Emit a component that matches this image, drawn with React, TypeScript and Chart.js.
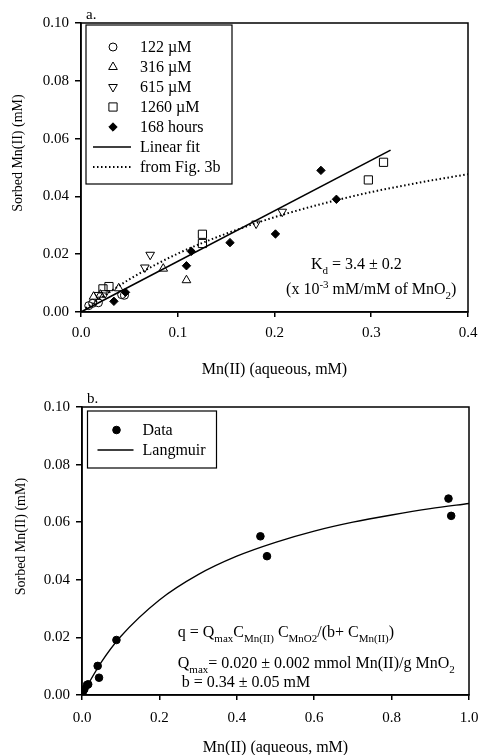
import React, { useEffect, useRef } from 'react';
import { Chart, registerables } from 'chart.js';
import { drawPoint } from 'chart.js/helpers';

Chart.register(...registerables);

const SERIF = '"Liberation Serif", "Times New Roman", Times, serif';

// ---------------- Panel a ----------------
const aXTicks = [0, 0.1, 0.2, 0.3, 0.4];
const aYTicks = [0, 0.02, 0.04, 0.06, 0.08, 0.1];

const a122X = [0.008, 0.012, 0.018, 0.042, 0.045];
const a122Y = [0.0022, 0.003, 0.0032, 0.006, 0.0058];

const a316X = [0.013, 0.02, 0.039, 0.085, 0.109];
const a316Y = [0.0053, 0.006, 0.0082, 0.015, 0.011];

const a615X = [0.018, 0.025, 0.066, 0.0715, 0.181, 0.208];
const a615Y = [0.0059, 0.0065, 0.0154, 0.0198, 0.0306, 0.0347];

const a1260X = [0.0227, 0.0289, 0.1255, 0.1255, 0.297, 0.3127];
const a1260Y = [0.008, 0.0088, 0.0237, 0.0269, 0.0457, 0.0518];

const a168X = [0.034, 0.046, 0.109, 0.114, 0.154, 0.201, 0.248, 0.264];
const a168Y = [0.0037, 0.0068, 0.016, 0.021, 0.024, 0.027, 0.049, 0.039];

const aFitX = [0, 0.32];
const aFitY = [0, 0.056];

const aFig3bX = [0.005, 0.05, 0.1, 0.15, 0.2, 0.25, 0.3, 0.35, 0.4];
const aFig3bY = [0.0013, 0.0113, 0.0202, 0.0271, 0.0328, 0.0375, 0.0415, 0.0448, 0.0477];

const aNames = ['122 µM', '316 µM', '615 µM', '1260 µM', '168 hours', 'Linear fit', 'from Fig. 3b'];

// ---------------- Panel b ----------------
const bXTicks = [0, 0.2, 0.4, 0.6, 0.8, 1.0];
const bYTicks = [0, 0.02, 0.04, 0.06, 0.08, 0.1];

const bDataX = [0.002, 0.006, 0.013, 0.016, 0.0405, 0.044, 0.089, 0.461, 0.478, 0.947, 0.954];
const bDataY = [0.001, 0.002, 0.0035, 0.0037, 0.0101, 0.006, 0.0191, 0.0551, 0.0482, 0.0682, 0.0622];

const bLangX = [0, 0.05, 0.1, 0.2, 0.3, 0.4, 0.5, 0.6, 0.7, 0.8, 0.9, 1.0];
const bLangY = [0, 0.0114, 0.0203, 0.033, 0.0418, 0.0482, 0.053, 0.0569, 0.06, 0.0625, 0.0647, 0.0665];

const bNames = ['Data', 'Langmuir'];

type Seg = { t: string; k?: 'sub' | 'sup' };
type Note = { x: number; y: number; segs: Seg[] };

const aNotes: Note[] = [
  { x: 0.2377, y: 0.0166, segs: [{ t: 'K' }, { t: 'd', k: 'sub' }, { t: ' = 3.4 ± 0.2' }] },
  { x: 0.212, y: 0.008, segs: [{ t: '(x 10' }, { t: '-3', k: 'sup' }, { t: ' mM/mM of MnO' }, { t: '2', k: 'sub' }, { t: ')' }] },
];

const bNotes: Note[] = [
  {
    x: 0.2475, y: 0.0219, segs: [
      { t: 'q = Q' }, { t: 'max', k: 'sub' }, { t: 'C' }, { t: 'Mn(II)', k: 'sub' }, { t: ' C' },
      { t: 'MnO2', k: 'sub' }, { t: '/(b+ C' }, { t: 'Mn(II)', k: 'sub' }, { t: ')' },
    ],
  },
  { x: 0.2475, y: 0.0111, segs: [{ t: 'Q' }, { t: 'max', k: 'sub' }, { t: '= 0.020 ± 0.002 mmol Mn(II)/g MnO' }, { t: '2', k: 'sub' }] },
  { x: 0.2475, y: 0.0045, segs: [{ t: ' b = 0.34 ± 0.05 mM' }] },
];

function pts(xs: number[], ys: number[]) {
  return xs.map((x, i) => ({ x, y: ys[i] }));
}

function drawRich(ctx: CanvasRenderingContext2D, segs: Seg[], x: number, y: number, size: number) {
  let cx = x;
  ctx.textAlign = 'left';
  ctx.textBaseline = 'alphabetic';
  const base = y + size * 0.33;
  for (const s of segs) {
    const fs = s.k ? Math.round(size * 0.7) : size;
    ctx.font = `${fs}px ${SERIF}`;
    const dy = s.k === 'sub' ? size * 0.28 : s.k === 'sup' ? -size * 0.38 : 0;
    ctx.fillText(s.t, cx, base + dy);
    cx += ctx.measureText(s.t).width;
  }
}

type Panel = {
  label: string;
  names: string[];
  notes: Note[];
  yTitleDx: number;
  xTitleDy: number;
  legend: { dx: number; dy: number; w: number; h: number; row0: number; step: number; symX: number; lx0: number; lx1: number; textX: number };
};

function decorPlugin(p: Panel) {
  return {
    id: 'decor' + p.label,
    afterDraw(chart: any) {
      const ctx: CanvasRenderingContext2D = chart.ctx;
      const ca = chart.chartArea;
      const xs = chart.scales.x;
      const ys = chart.scales.y;
      ctx.save();
      // frame
      ctx.strokeStyle = '#000';
      ctx.lineWidth = 1.5;
      ctx.strokeRect(ca.left, ca.top, ca.right - ca.left, ca.bottom - ca.top);
      ctx.fillStyle = '#000';
      // panel label
      ctx.font = `15px ${SERIF}`;
      ctx.textAlign = 'left';
      ctx.textBaseline = 'middle';
      ctx.fillText(p.label, ca.left + 5, ca.top - 8);
      // axis titles
      ctx.font = `16px ${SERIF}`;
      ctx.textAlign = 'center';
      ctx.textBaseline = 'middle';
      ctx.fillText('Mn(II) (aqueous, mM)', (ca.left + ca.right) / 2, ca.bottom + p.xTitleDy);
      ctx.save();
      ctx.translate(ca.left - p.yTitleDx, ca.top + (ca.bottom - ca.top) * 0.45);
      ctx.rotate(-Math.PI / 2);
      ctx.font = `14px ${SERIF}`;
      ctx.fillText('Sorbed Mn(II) (mM)', 0, 0);
      ctx.restore();
      // notes
      for (const n of p.notes) {
        drawRich(ctx, n.segs, xs.getPixelForValue(n.x), ys.getPixelForValue(n.y), 16);
      }
      // legend
      const L = p.legend;
      const bx = ca.left + L.dx;
      const by = ca.top + L.dy;
      ctx.fillStyle = '#fff';
      ctx.fillRect(bx, by, L.w, L.h);
      ctx.strokeStyle = '#000';
      ctx.lineWidth = 1.2;
      ctx.strokeRect(bx, by, L.w, L.h);
      chart.data.datasets.forEach((ds: any, i: number) => {
        const cy = by + L.row0 + i * L.step;
        ctx.save();
        ctx.strokeStyle = '#000';
        if (ds.showLine) {
          ctx.lineWidth = ds.borderWidth;
          ctx.setLineDash(ds.borderDash || []);
          ctx.beginPath();
          ctx.moveTo(bx + L.lx0, cy);
          ctx.lineTo(bx + L.lx1, cy);
          ctx.stroke();
        } else {
          ctx.fillStyle = ds.pointBackgroundColor;
          ctx.lineWidth = ds.pointBorderWidth;
          drawPoint(ctx, { pointStyle: ds.pointStyle, rotation: ds.pointRotation || 0, radius: ds.pointRadius, borderWidth: ds.pointBorderWidth }, bx + L.symX, cy);
        }
        ctx.restore();
        ctx.fillStyle = '#000';
        ctx.font = `16px ${SERIF}`;
        ctx.textAlign = 'left';
        ctx.textBaseline = 'middle';
        ctx.fillText(p.names[i], bx + L.textX, cy + 1);
      });
      ctx.restore();
    },
  };
}

function axisOpts(ticks: number[], digits: number, fit: (s: any) => void, tickLen: number, pad: number) {
  return {
    type: 'linear',
    min: ticks[0],
    max: ticks[ticks.length - 1],
    afterBuildTicks: (s: any) => {
      s.ticks = ticks.map((v) => ({ value: v }));
    },
    afterFit: (s: any) => {
      fit(s);
      s.paddingLeft = 0;
      s.paddingRight = 0;
      s.paddingTop = 0;
      s.paddingBottom = 0;
    },
    ticks: {
      callback: (v: any) => Number(v).toFixed(digits),
      font: { size: 15, family: SERIF },
      color: '#000',
      padding: pad,
      maxRotation: 0,
      autoSkip: false,
    },
    grid: { drawOnChartArea: false, drawTicks: true, tickLength: tickLen, color: '#000', lineWidth: 1.5 },
    border: { display: true, color: '#000', width: 1.5 },
  };
}

function scatterSet(label: string, xs: number[], ys: number[], style: string, radius: number, filled: boolean, rotation = 0) {
  return {
    label,
    data: pts(xs, ys),
    showLine: false,
    pointStyle: style,
    pointRotation: rotation,
    pointRadius: radius,
    pointHoverRadius: radius,
    pointBorderWidth: 1,
    pointBorderColor: '#000',
    pointBackgroundColor: filled ? '#000' : 'rgba(0,0,0,0)',
  };
}

function lineSet(label: string, xs: number[], ys: number[], width: number, dash: number[], smooth: boolean) {
  return {
    label,
    data: pts(xs, ys),
    showLine: true,
    borderColor: '#000',
    borderWidth: width,
    borderDash: dash,
    pointRadius: 0,
    pointHoverRadius: 0,
    fill: false,
    tension: smooth ? 0.4 : 0,
    cubicInterpolationMode: smooth ? 'monotone' : 'default',
  };
}

function PanelChart(props: { which: 'a' | 'b'; top: number; height: number }) {
  const ref = useRef<HTMLCanvasElement | null>(null);
  useEffect(() => {
    if (!ref.current) return;
    Chart.defaults.font.family = SERIF;
    Chart.defaults.color = '#000';
    let datasets: any[];
    let panel: Panel;
    let scales: any;
    let padding: any;
    if (props.which === 'a') {
      datasets = [
        scatterSet(aNames[0], a122X, a122Y, 'circle', 4, false),
        scatterSet(aNames[1], a316X, a316Y, 'triangle', 5, false),
        scatterSet(aNames[2], a615X, a615Y, 'triangle', 5, false, 180),
        scatterSet(aNames[3], a1260X, a1260Y, 'rect', 5.8, false),
        scatterSet(aNames[4], a168X, a168Y, 'rectRot', 4.2, true),
        lineSet(aNames[5], aFitX, aFitY, 1.6, [], false),
        lineSet(aNames[6], aFig3bX, aFig3bY, 2, [1.5, 2.5], true),
      ];
      panel = {
        label: 'a.', names: aNames, notes: aNotes, yTitleDx: 63, xTitleDy: 58,
        legend: { dx: 5, dy: 2, w: 146, h: 159, row0: 22, step: 20, symX: 27, lx0: 7, lx1: 45, textX: 54 },
      };
      scales = {
        x: axisOpts(aXTicks, 1, (s: any) => { s.height = 68; }, 5, 7),
        y: axisOpts(aYTicks, 2, (s: any) => { s.width = 81; }, 6, 6),
      };
      padding = { top: 23, right: 10, left: 0, bottom: 0 };
    } else {
      datasets = [
        scatterSet(bNames[0], bDataX, bDataY, 'circle', 3.8, true),
        lineSet(bNames[1], bLangX, bLangY, 1.3, [], true),
      ];
      panel = {
        label: 'b.', names: bNames, notes: bNotes, yTitleDx: 61, xTitleDy: 53,
        legend: { dx: 5.5, dy: 4, w: 129, h: 57, row0: 19, step: 20, symX: 29, lx0: 10, lx1: 46, textX: 55 },
      };
      scales = {
        x: axisOpts(bXTicks, 1, (s: any) => { s.height = 60; }, 5, 9),
        y: axisOpts(bYTicks, 2, (s: any) => { s.width = 82; }, 6, 6),
      };
      padding = { top: 27, right: 9, left: 0, bottom: 0 };
    }
    const chart = new Chart(ref.current, {
      type: 'scatter',
      data: { datasets },
      options: {
        responsive: false,
        animation: false,
        devicePixelRatio: 1,
        layout: { padding },
        plugins: { legend: { display: false }, tooltip: { enabled: false } },
        scales,
      } as any,
      plugins: [decorPlugin(panel)],
    } as any);
    return () => chart.destroy();
  }, [props.which]);
  return (
    <canvas
      ref={ref}
      width={478}
      height={props.height}
      style={{ position: 'absolute', left: 0, top: props.top, width: 478, height: props.height, display: 'block' }}
    />
  );
}

export default function App() {
  return (
    <div style={{ position: 'fixed', left: 0, top: 0, width: 478, height: 755, background: '#fff', overflow: 'hidden' }}>
      <PanelChart which="a" top={0} height={380} />
      <PanelChart which="b" top={380} height={375} />
    </div>
  );
}
